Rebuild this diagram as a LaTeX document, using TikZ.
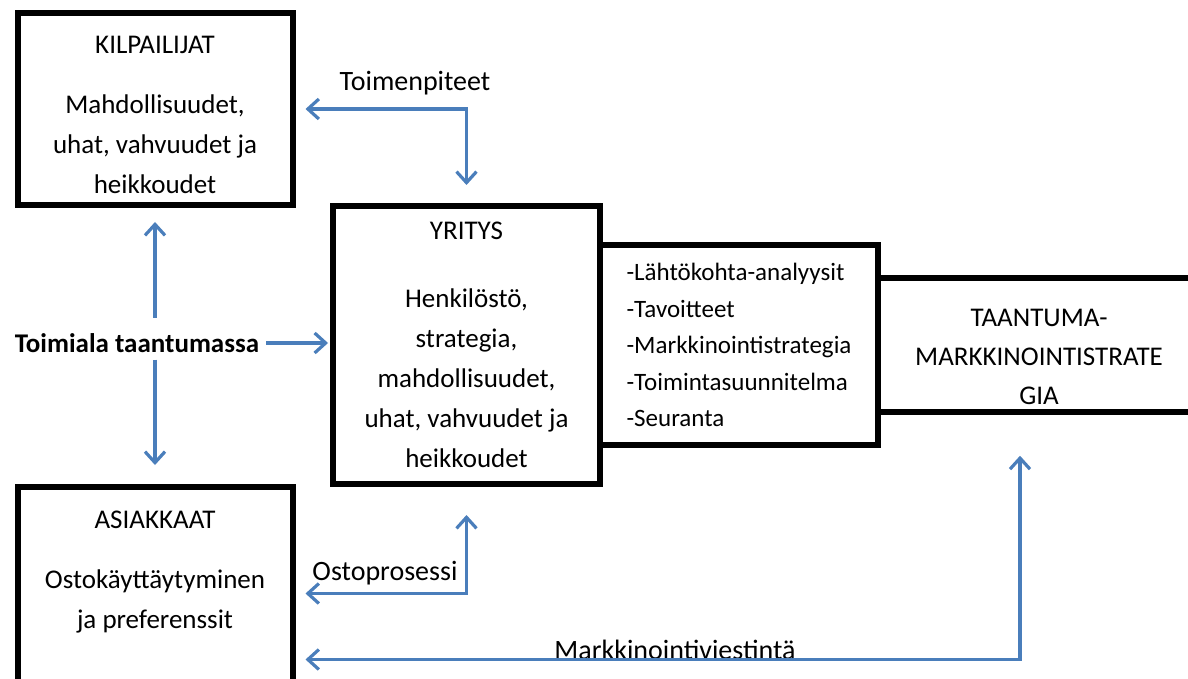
\documentclass[tikz,border=0pt]{standalone}
\usepackage{fontspec}
\setmainfont{Carlito}
\usetikzlibrary{positioning,arrows.meta}
\definecolor{flowblue}{RGB}{74,126,187}
\begin{document}
\begin{tikzpicture}
    [x=0.5pt,y=-0.5pt,
     box/.style={draw=black,line width=3pt,outer sep=0pt,align=center,
       font=\fontsize{13.5}{20}\selectfont},
     flow/.style={<->,>={Straight Barb[length=5.5pt,width=10pt]},
       line width=1.6pt,draw=flowblue},
     lbl/.style={font=\fontsize{14}{16}\selectfont}]
    \useasboundingbox (0,0) rectangle (1188,679);
    % boxes
    \node [box,minimum width=137.5pt,minimum height=96pt] (kil) at (155,109)
      {KILPAILIJAT\rule{0pt}{15pt}\\[10pt]Mahdollisuudet,\\uhat, vahvuudet ja\\heikkoudet};
    \node [box,minimum width=133.5pt,minimum height=139pt] (yri) at (466.5,345)
      {YRITYS\\[14pt]Henkilöstö,\\strategia,\\mahdollisuudet,\\uhat, vahvuudet ja\\heikkoudet};
    \node [box,anchor=west,align=left,minimum width=139pt,minimum height=100pt,
      font=\fontsize{12.5}{18.25}\selectfont] (lst) at (yri.east)
      {-Lähtökohta-analyysit\\-Tavoitteet\\-Markkinointistrategia\\-Toimintasuunnitelma\\-Seuranta};
    \node [box,right=0pt of lst,minimum width=161pt,minimum height=63.5pt,
      font=\fontsize{13.5}{19.5}\selectfont] (tau)
      {TAANTUMA-\rule{0pt}{21pt}\\MARKKINOINTISTRATE\\GIA};
    \node [box,minimum width=137.5pt,minimum height=106.5pt] (asi) at (155,593.5) {};
    \node [align=center,font=\fontsize{13.5}{20}\selectfont,below=8.5pt of asi.north] (asitxt)
      {ASIAKKAAT\\[10pt]Ostokäyttäytyminen\\ja preferenssit};
    % labels
    \node [font=\fontsize{13.5}{16}\selectfont\bfseries] (tol) at (137,343) {Toimiala taantumassa};
    \node [lbl] (toi) at (415,83) {Toimenpiteet};
    \node [lbl] (ost) at (385,573) {Ostoprosessi};
    \node [lbl] (mkv) at (675,650) {Markkinointiviestintä};
    % arrows
    \draw [flow,shorten <=6.5pt,shorten >=10.5pt] (kil.east) -| (yri.north);
    \draw [flow,<-,shorten <=8.5pt,shorten >=4pt] (kil.south) -- (kil.south |- tol.north);
    \draw [flow,->,shorten >=11pt] (kil.south |- tol.south) -- (asi.north);
    \draw [flow,->,shorten >=2.5pt] (tol.east) -- (tol.east -| yri.west);
    \draw [flow,shorten <=6.5pt,shorten >=15.5pt] (asi.east) -| (yri.south);
    \draw [flow,shorten <=6.5pt,shorten >=22pt] ([yshift=-33pt]asi.east) -| ([xshift=-9.5pt]tau.south);
  \end{tikzpicture}
\end{document}
